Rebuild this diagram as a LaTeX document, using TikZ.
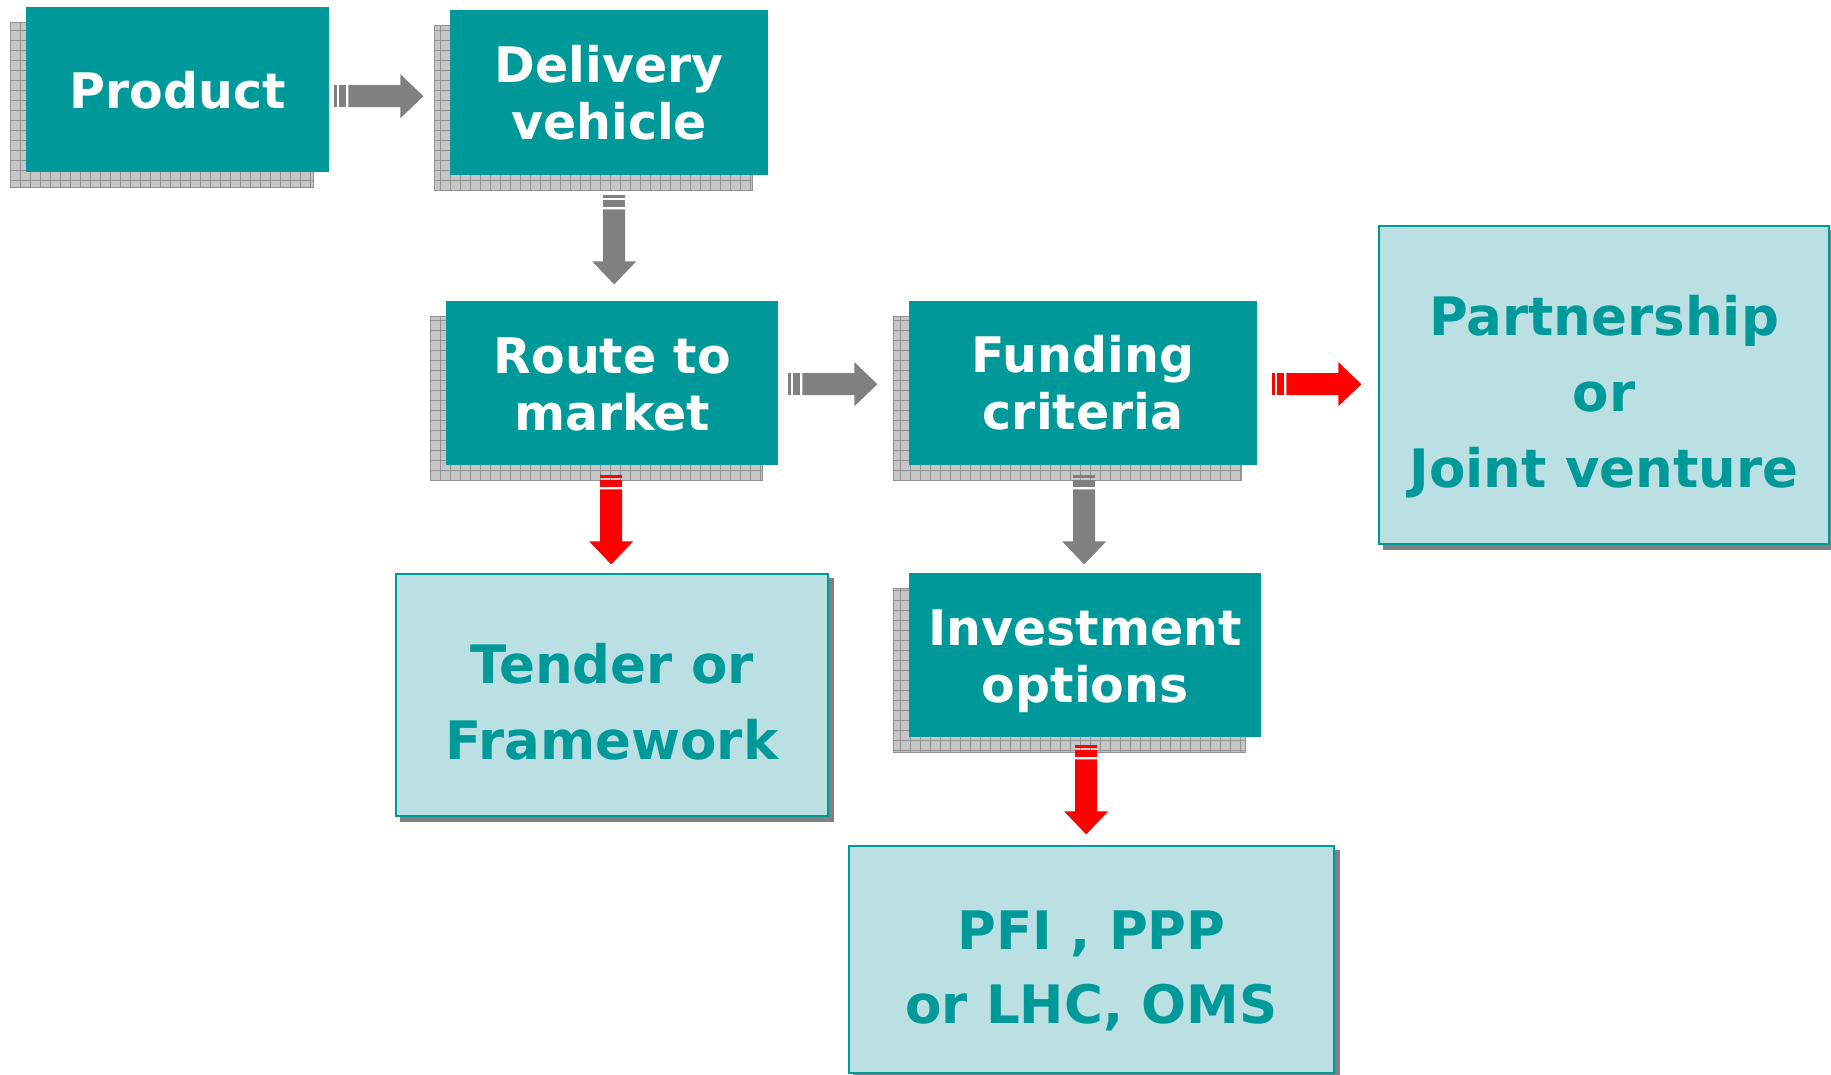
\documentclass[tikz,border=0pt]{standalone}
\usepackage{fontspec}
\setmainfont{DejaVu Sans}
\usetikzlibrary{calc}
\definecolor{tealc}{RGB}{0,153,153}
\definecolor{lightc}{RGB}{187,224,227}
\definecolor{shgrid}{RGB}{145,145,145}
\definecolor{shfill}{RGB}{198,198,198}
\definecolor{arrgray}{RGB}{128,128,128}
\definecolor{arrred}{RGB}{255,0,0}
\pgfdeclarelayer{bg}
\pgfsetlayers{bg,main}
\newcommand\gridshadow[1]{%
  \fill[shfill] ($(#1.north west)+(-16,15)$) rectangle ($(#1.south east)+(-16,15)$);
  \begin{scope}
    \clip ($(#1.north west)+(-16,15)$) rectangle ($(#1.south east)+(-16,15)$);
    \draw[shgrid, line width=1pt, step=10pt] ($(#1.north west)+(-16,15)$) grid ($(#1.south east)+(-16,15)$);
  \end{scope}
  \draw[shgrid, line width=1pt] ($(#1.north west)+(-16,15)$) rectangle ($(#1.south east)+(-16,15)$);
}
\newcommand\solidshadow[1]{%
  \fill[arrgray] ($(#1.north west)+(5,5)$) rectangle ($(#1.south east)+(5,5)$);
}
\tikzset{
  tealbox/.style={fill=tealc, draw=none, inner sep=0pt, anchor=north west},
  lightbox/.style={fill=lightc, draw=tealc, line width=2pt, inner sep=0pt, anchor=north west},
  tealtext/.style={text=white, font=\fontsize{49}{57}\selectfont\bfseries, align=center, inner sep=0pt},
  lighttext/.style={text=tealc, font=\fontsize{53}{76}\selectfont\bfseries, align=center, inner sep=0pt},
  pics/barrow/.style={code={
    \fill (0,-11) rectangle (3,11);
    \fill (5,-11) rectangle (12,11);
    \fill (14,-11) -- (66,-11) -- (66,-22) -- (89,0) -- (66,22) -- (66,11) -- (14,11) -- cycle;
  }},
}
\begin{document}
\begin{tikzpicture}[x=1pt,y=-1pt]
\useasboundingbox (0,0) rectangle (1831,1074);
\clip (0,0) rectangle (1831,1074);
% teal boxes
\node[tealbox, minimum width=303, minimum height=165] (prod) at (26,7) {};
\node[tealbox, minimum width=318, minimum height=165] (deliv) at (450,10) {};
\node[tealbox, minimum width=332, minimum height=164] (route) at (446,301) {};
\node[tealbox, minimum width=348, minimum height=164] (fund) at (909,301) {};
\node[tealbox, minimum width=352, minimum height=164] (invest) at (909,573) {};
% light boxes
\node[lightbox, minimum width=432, minimum height=242] (tender) at (395,573) {};
\node[lightbox, minimum width=450, minimum height=318] (partner) at (1378,225) {};
\node[lightbox, minimum width=485, minimum height=227] (pfi) at (848,845) {};
% shadows
\begin{pgfonlayer}{bg}
  \gridshadow{prod}
  \gridshadow{deliv}
  \gridshadow{route}
  \gridshadow{fund}
  \gridshadow{invest}
  \solidshadow{tender}
  \solidshadow{partner}
  \solidshadow{pfi}
\end{pgfonlayer}
% texts
\node[tealtext] (prod-t) at ($(prod.center)+(0,1)$) {Product};
\node[tealtext] (deliv-t) at ($(deliv.center)+(0,0)$) {Delivery\\vehicle};
\node[tealtext] (route-t) at ($(route.center)+(0,1)$) {Route to\\market};
\node[tealtext] (fund-t) at ($(fund.center)+(0,0)$) {Funding\\criteria};
\node[tealtext] (invest-t) at ($(invest.center)+(0,6)$) {Investment\\options};
\node[lighttext] (tender-t) at ($(tender.center)+(0,7)$) {Tender or\\Framework};
\node[lighttext] (partner-t) at ($(partner.center)+(0,12)$) {Partnership\\or\\Joint venture};
\node[lighttext, font=\fontsize{53}{74}\selectfont\bfseries] (pfi-t) at ($(pfi.center)+(0,11)$) {PFI , PPP\\or LHC, OMS};
% block arrows
\pic[color=arrgray] at ($(prod.east)+(5,6.5)$) {barrow};
\pic[color=arrgray, rotate=-90] at ($(deliv.south)+(5,20)$) {barrow};
\pic[color=arrgray] at ($(route.east)+(10,1)$) {barrow};
\pic[color=arrred, rotate=-90] at ($(route.south)+(-1,10)$) {barrow};
\pic[color=arrred] at ($(fund.east)+(15,1)$) {barrow};
\pic[color=arrgray, rotate=-90] at ($(fund.south)+(1,10)$) {barrow};
\pic[color=arrred, rotate=-90] at ($(invest.south)+(1,8)$) {barrow};
\end{tikzpicture}
\end{document}
